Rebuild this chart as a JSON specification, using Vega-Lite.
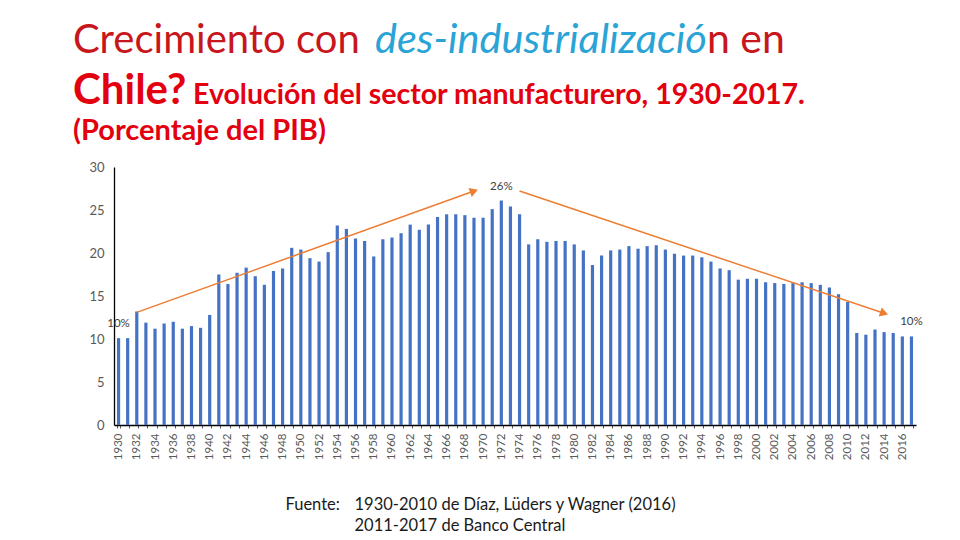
{
  "$schema": "https://vega.github.io/schema/vega-lite/v6.json",
  "background": "white",
  "padding": {"left": 73, "top": 17, "right": 5, "bottom": 5},
  "spacing": 5,
  "config": {
    "view": {"stroke": null},
    "font": "Lato",
    "concat": {"spacing": 0}
  },
  "datasets": {
    "manufactura": [
      {"year": 1930, "value": 10.1, "etiqueta": "10%"},
      {"year": 1931, "value": 10.1},
      {"year": 1932, "value": 13.2},
      {"year": 1933, "value": 11.9},
      {"year": 1934, "value": 11.2},
      {"year": 1935, "value": 11.8},
      {"year": 1936, "value": 12.0},
      {"year": 1937, "value": 11.2},
      {"year": 1938, "value": 11.5},
      {"year": 1939, "value": 11.3},
      {"year": 1940, "value": 12.8},
      {"year": 1941, "value": 17.5},
      {"year": 1942, "value": 16.4},
      {"year": 1943, "value": 17.7},
      {"year": 1944, "value": 18.3},
      {"year": 1945, "value": 17.3},
      {"year": 1946, "value": 16.3},
      {"year": 1947, "value": 17.9},
      {"year": 1948, "value": 18.2},
      {"year": 1949, "value": 20.6},
      {"year": 1950, "value": 20.4},
      {"year": 1951, "value": 19.4},
      {"year": 1952, "value": 19.0},
      {"year": 1953, "value": 20.1},
      {"year": 1954, "value": 23.2},
      {"year": 1955, "value": 22.8},
      {"year": 1956, "value": 21.7},
      {"year": 1957, "value": 21.4},
      {"year": 1958, "value": 19.6},
      {"year": 1959, "value": 21.6},
      {"year": 1960, "value": 21.8},
      {"year": 1961, "value": 22.3},
      {"year": 1962, "value": 23.3},
      {"year": 1963, "value": 22.7},
      {"year": 1964, "value": 23.3},
      {"year": 1965, "value": 24.2},
      {"year": 1966, "value": 24.5},
      {"year": 1967, "value": 24.5},
      {"year": 1968, "value": 24.4},
      {"year": 1969, "value": 24.1},
      {"year": 1970, "value": 24.1},
      {"year": 1971, "value": 25.1},
      {"year": 1972, "value": 26.1, "etiqueta": "26%"},
      {"year": 1973, "value": 25.4},
      {"year": 1974, "value": 24.5},
      {"year": 1975, "value": 21.0},
      {"year": 1976, "value": 21.6},
      {"year": 1977, "value": 21.3},
      {"year": 1978, "value": 21.4},
      {"year": 1979, "value": 21.4},
      {"year": 1980, "value": 21.0},
      {"year": 1981, "value": 20.3},
      {"year": 1982, "value": 18.6},
      {"year": 1983, "value": 19.7},
      {"year": 1984, "value": 20.3},
      {"year": 1985, "value": 20.4},
      {"year": 1986, "value": 20.8},
      {"year": 1987, "value": 20.5},
      {"year": 1988, "value": 20.8},
      {"year": 1989, "value": 20.9},
      {"year": 1990, "value": 20.4},
      {"year": 1991, "value": 19.9},
      {"year": 1992, "value": 19.7},
      {"year": 1993, "value": 19.7},
      {"year": 1994, "value": 19.5},
      {"year": 1995, "value": 19.0},
      {"year": 1996, "value": 18.2},
      {"year": 1997, "value": 18.0},
      {"year": 1998, "value": 16.9},
      {"year": 1999, "value": 17.0},
      {"year": 2000, "value": 17.0},
      {"year": 2001, "value": 16.6},
      {"year": 2002, "value": 16.5},
      {"year": 2003, "value": 16.4},
      {"year": 2004, "value": 16.5},
      {"year": 2005, "value": 16.6},
      {"year": 2006, "value": 16.5},
      {"year": 2007, "value": 16.3},
      {"year": 2008, "value": 16.0},
      {"year": 2009, "value": 15.2},
      {"year": 2010, "value": 14.3},
      {"year": 2011, "value": 10.7},
      {"year": 2012, "value": 10.5},
      {"year": 2013, "value": 11.1},
      {"year": 2014, "value": 10.8},
      {"year": 2015, "value": 10.7},
      {"year": 2016, "value": 10.3},
      {"year": 2017, "value": 10.3, "etiqueta": "10%"}
    ],
    "flechas": [
      {"flecha": "subida", "punto": "inicio", "year": 1932, "value": 13.1},
      {"flecha": "subida", "punto": "fin", "year": 1969, "value": 27.2},
      {"flecha": "bajada", "punto": "inicio", "year": 1974, "value": 27.2},
      {"flecha": "bajada", "punto": "fin", "year": 2014, "value": 13.0}
    ]
  },
  "vconcat": [
    {
      "spacing": 0,
      "hconcat": [
        {
          "width": 1, "height": 36,
          "data": {"values": []},
          "mark": "point",
          "title": {"text": "Crecimiento con", "orient": "bottom", "anchor": "start", "baseline": "alphabetic", "offset": 0, "dx": -41, "font": "Lato", "fontSize": 40, "fontWeight": "normal", "color": "#C8161D"}
        },
        {
          "width": 1, "height": 36,
          "data": {"values": []},
          "mark": "point",
          "title": {"text": "des-industrializació", "orient": "bottom", "anchor": "start", "baseline": "alphabetic", "offset": 0, "dx": 15, "font": "Lato", "fontSize": 41.5, "fontWeight": "normal", "fontStyle": "italic", "color": "#2AA3D6"}
        },
        {
          "width": 1, "height": 36,
          "data": {"values": []},
          "mark": "point",
          "title": {"text": "n en", "orient": "bottom", "anchor": "start", "baseline": "alphabetic", "offset": 0, "font": "Lato", "fontSize": 41, "fontWeight": "normal", "color": "#C8161D"}
        }
      ]
    },
    {
      "spacing": 0,
      "hconcat": [
        {
          "width": 1, "height": 37,
          "data": {"values": []},
          "mark": "point",
          "title": {"text": "Chile?", "orient": "bottom", "anchor": "start", "baseline": "alphabetic", "offset": 0, "dx": -41, "font": "Lato", "fontSize": 42, "fontWeight": "bold", "color": "#E3000F"}
        },
        {
          "width": 1, "height": 37,
          "data": {"values": []},
          "mark": "point",
          "title": {"text": "Evolución del sector manufacturero, 1930-2017.", "orient": "bottom", "anchor": "start", "baseline": "alphabetic", "offset": 0, "dx": 6, "font": "Lato", "fontSize": 28.5, "fontWeight": "bold", "color": "#E3000F"}
        }
      ]
    },
    {
      "width": 802,
      "height": 258,
      "title": {"text": "(Porcentaje del PIB)", "anchor": "start", "baseline": "alphabetic", "offset": -8, "font": "Lato", "fontSize": 29, "fontWeight": "bold", "color": "#E3000F"},
      "layer": [
        {
          "data": {"name": "manufactura"},
          "mark": {"type": "bar", "color": "#4472C4"},
          "encoding": {
            "x": {
              "field": "year", "type": "ordinal",
              "scale": {"paddingInner": 0.65, "paddingOuter": 0.325},
              "axis": {
                "title": ["1930-2010 de Díaz, Lüders y Wagner (2016)", "2011-2017 de Banco Central"],
                "titleX": 240, "titleY": 84,
                "titleAlign": "left", "titleBaseline": "alphabetic", "titleLineHeight": 21,
                "titleFont": "Lato", "titleFontSize": 16.5, "titleFontWeight": "normal", "titleColor": "#1a1a1a",
                "labelAngle": -90,
                "labelExpr": "datum.value % 2 == 0 ? datum.label : ''",
                "labelOverlap": false,
                "labelFont": "Lato", "labelFontSize": 11.5, "labelColor": "#595959", "labelPadding": 5,
                "ticks": true, "tickSize": 3, "tickBand": "extent", "tickColor": "#595959",
                "domainColor": "#000000", "domainWidth": 1.3
              }
            },
            "y": {
              "field": "value", "type": "quantitative",
              "scale": {"domain": [0, 30]},
              "axis": {
                "values": [0, 5, 10, 15, 20, 25, 30],
                "title": "Fuente:",
                "titleAngle": 0, "titleX": 171, "titleY": 342.5,
                "titleAlign": "left", "titleBaseline": "alphabetic",
                "titleFont": "Lato", "titleFontSize": 16.5, "titleFontWeight": "normal", "titleColor": "#1a1a1a",
                "grid": false, "ticks": false,
                "domainColor": "#000000", "domainWidth": 1.3,
                "labelFont": "Lato", "labelFontSize": 13, "labelColor": "#595959", "labelPadding": 10,
                "minExtent": 41
              }
            }
          }
        },
        {
          "data": {"name": "manufactura"},
          "transform": [{"filter": "datum.etiqueta != null"}],
          "mark": {"type": "text", "dy": -14, "baseline": "middle", "font": "Lato", "fontSize": 11.5, "color": "#404040"},
          "encoding": {
            "x": {"field": "year", "type": "ordinal"},
            "y": {"field": "value", "type": "quantitative"},
            "text": {"field": "etiqueta"}
          }
        },
        {
          "data": {"name": "flechas"},
          "mark": {"type": "line", "color": "#ED7D31", "strokeWidth": 1.5},
          "encoding": {
            "x": {"field": "year", "type": "ordinal"},
            "y": {"field": "value", "type": "quantitative"},
            "detail": {"field": "flecha"}
          }
        },
        {
          "data": {"name": "flechas"},
          "transform": [{"filter": "datum.flecha == 'subida' && datum.punto == 'fin'"}],
          "mark": {"type": "point", "shape": "triangle-right", "filled": true, "opacity": 1, "color": "#ED7D31", "size": 90, "angle": -19.8},
          "encoding": {
            "x": {"field": "year", "type": "ordinal"},
            "y": {"field": "value", "type": "quantitative"}
          }
        },
        {
          "data": {"name": "flechas"},
          "transform": [{"filter": "datum.flecha == 'bajada' && datum.punto == 'fin'"}],
          "mark": {"type": "point", "shape": "triangle-right", "filled": true, "opacity": 1, "color": "#ED7D31", "size": 90, "angle": 18.6},
          "encoding": {
            "x": {"field": "year", "type": "ordinal"},
            "y": {"field": "value", "type": "quantitative"}
          }
        }
      ]
    }
  ]
}
